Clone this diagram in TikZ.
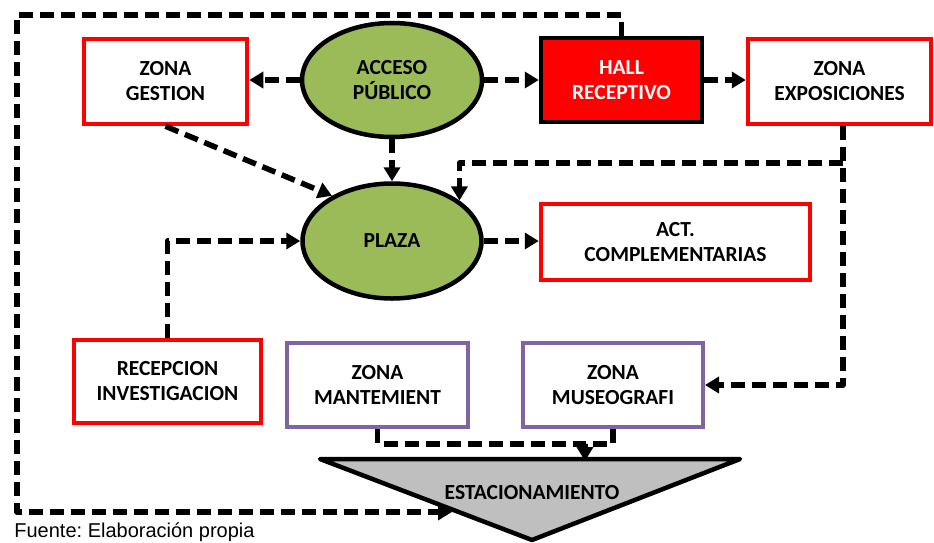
\documentclass[tikz,border=0pt]{standalone}
\usepackage{fontspec}
\setmainfont{Carlito}
\newfontfamily\srcfont{Liberation Sans}
\usetikzlibrary{shapes.geometric,arrows.meta}
\definecolor{grass}{HTML}{9BBB59}
\definecolor{zonered}{HTML}{FF0000}
\definecolor{zonepurple}{HTML}{8064A2}
\definecolor{parkgray}{HTML}{BFBFBF}
\frenchspacing

\begin{document}
\begin{tikzpicture}[x=1pt,y=-1pt,thick]
    % `zone' and `service' are the plain boxes (red and purple edges).
    % `access' is used for the green ellipses, `hall' for the filled box.
    % `link' is the dashed connector with its head, `dline' the one without.
    \tikzstyle{lbl} = [font=\bfseries\fontsize{21.5}{25}\selectfont,align=center]
    \tikzstyle{zone} = [lbl,draw=zonered,line width=4.5pt,fill=white,inner sep=0pt]
    \tikzstyle{service} = [lbl,draw=zonepurple,line width=4pt,fill=white,inner sep=0pt]
    \tikzstyle{access} = [lbl,draw,line width=4.5pt,fill=grass,shape=ellipse,inner sep=0pt,
                          minimum width=180pt,minimum height=114pt]
    \tikzstyle{hall} = [lbl,draw,line width=4.5pt,fill=zonered,text=white,inner sep=0pt]
    \tikzstyle{dline} = [draw,line width=5.5pt,dash pattern=on 14pt off 7pt,line join=round]
    \tikzstyle{link} = [dline,-{Triangle[length=14pt,width=16pt]}]
    \useasboundingbox (0,0) rectangle (934,542);
    %
    \node[zone,minimum width=163pt,minimum height=85pt] (gestion) at (165.5,81.5) {ZONA\\GESTION};
    \node[access] (acceso) at (392,80) {ACCESO\\PÚBLICO};
    \node[hall,minimum width=161pt,minimum height=84pt] (hall) at (621.5,80) {HALL\\RECEPTIVO};
    \node[zone,minimum width=183pt,minimum height=85pt] (expo) at (839.5,81.5) {ZONA\\EXPOSICIONES};
    \node[access,minimum width=179pt,minimum height=115pt] (plaza) at (392,241) {PLAZA};
    \node[zone,minimum width=269pt,minimum height=76pt] (act) at (675.5,242) {ACT.\\COMPLEMENTARIAS};
    \node[zone,minimum width=187pt,minimum height=83pt] (recep) at (167.5,381.5) {RECEPCION\\INVESTIGACION};
    \node[service,minimum width=181pt,minimum height=84pt] (mant) at (377.5,385) {ZONA\\MANTEMIENT};
    \node[service,minimum width=180pt,minimum height=84pt] (museo) at (613,385) {ZONA\\MUSEOGRAFI};
    %
    % Parking triangle.
    \coordinate (ta) at (320,459);
    \coordinate (tb) at (740,459);
    \coordinate (tc) at (532,540);
    \draw[line width=4.5pt,fill=parkgray,line join=round] (ta) -- (tb) -- (tc) -- cycle;
    \node[lbl] (estac) at (532,493) {ESTACIONAMIENTO};
    %
    % Connectors.
    \coordinate (tl) at (17,15);
    \coordinate (bl) at (17,512);
    \coordinate (parkin) at (452,512);
    \coordinate (split) at (843,163);
    \coordinate (join) at (585,444);
    \draw[link] (acceso.west) -- (acceso.west -| gestion.east);
    \draw[link] (acceso.east) -- (acceso.east -| hall.west);
    \draw[link] (hall.east) -- (hall.east -| expo.west);
    \draw[link] (acceso.south) -- (plaza.north);
    \draw[link] (gestion.south) -- (plaza.143);
    \draw[link] (plaza.east) -- (plaza.east -| act.west);
    \draw[link] (recep.north) |- (plaza.west);
    \draw[link] (split |- expo.south) -- (split) |- (museo.east);
    \draw[link] (split) -| (plaza.31);
    \draw[link] (hall.north) |- (tl) -- (bl) -- (parkin);
    \draw[dline] (mant.south) |- (join);
    \draw[link] (museo.south) |- (join) -- ([yshift=-2pt]join |- ta);
    %
    \node[anchor=base west,font=\srcfont\fontsize{20}{24}\selectfont,inner sep=0pt] (fuente) at (14,537)
        {Fuente: Elaboración propia};
\end{tikzpicture}
\end{document}
